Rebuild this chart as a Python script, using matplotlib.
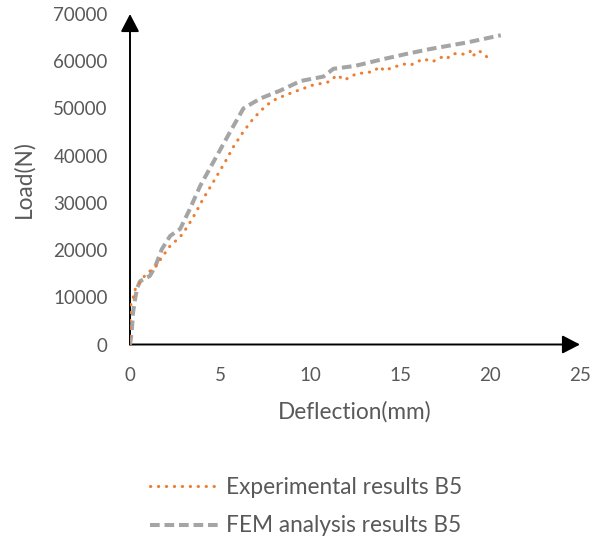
import matplotlib
matplotlib.use("Agg")
import matplotlib.pyplot as plt

# Load-deflection data for beam B5
exp_defl = [0.0, 0.0, 0.0, 0.0, 0.05, 0.18, 0.3, 0.56, 0.9, 1.39, 1.8, 2.23, 2.79, 3.2,
            3.62, 4.07, 4.64, 5.29, 5.75, 6.3, 6.86, 7.4, 7.8, 8.17, 8.9, 9.47, 10.2,
            10.8, 11.1, 11.5, 11.9, 12.6, 13.0, 13.5, 13.9, 14.1, 14.7, 15.2, 15.6,
            15.97, 16.3, 16.8, 17.4, 17.6, 18.0, 18.55, 18.9, 19.0, 19.4, 19.7, 19.9]
exp_load = [0, 3200, 4900, 6800, 8500, 10000, 11800, 13200, 15000, 16300, 18600, 20900,
            22800, 25000, 27700, 30900, 34500, 38700, 41900, 45100, 47900, 50000, 51300,
            52100, 53200, 54000, 55000, 55400, 55700, 57100, 56000, 57400, 57500, 57800,
            58900, 58000, 58800, 59400, 59200, 59900, 60500, 59900, 61000, 60600, 61600,
            61500, 62100, 61000, 62200, 61300, 60700]

fem_defl = [0.0, 0.09, 0.17, 0.28, 0.4, 0.56, 1.1, 1.4, 1.77, 2.23, 2.79, 3.3, 3.9, 4.83,
            5.57, 6.3, 7.24, 8.36, 9.47, 10.75, 11.3, 12.5, 13.9, 15.3, 16.7, 18.76, 20.6]
fem_load = [0, 2500, 6800, 9600, 12000, 13400, 14500, 16500, 20200, 23000, 24500, 28500,
            33600, 40000, 45100, 50000, 52100, 53800, 55800, 56750, 58400, 59000, 60300,
            61500, 62600, 64000, 65500]

x_ticks = [0, 5, 10, 15, 20, 25]
y_ticks = [0, 10000, 20000, 30000, 40000, 50000, 60000, 70000]

plt.rcParams['font.family'] = ['Lato', 'DejaVu Sans']
TEXT = '#595959'
FS_TICK = 13.5
FS_TEXT = 16.3

fig = plt.figure(figsize=(6.09, 5.46), dpi=100)
ax = fig.add_axes([130 / 609, 1 - 344.5 / 546, 450 / 609, 330.5 / 546])

ax.plot(exp_defl, exp_load, color='#ED7D31', lw=2.2, linestyle=(0, (0.1, 2.5)),
        dash_capstyle='round', label='Experimental results B5', zorder=3)
ax.plot(fem_defl, fem_load, color='#A5A5A5', lw=2.9, linestyle=(0, (2.4, 1.2)),
        label='FEM analysis results B5', zorder=2)

ax.set_xlim(0, 25)
ax.set_ylim(0, 70000)
ax.set_xticks(x_ticks)
ax.set_yticks(y_ticks)
ax.set_xticklabels([str(v) for v in x_ticks])
ax.set_yticklabels([str(v) for v in y_ticks])
ax.tick_params(axis='both', length=0, labelsize=FS_TICK, labelcolor=TEXT)
ax.tick_params(axis='y', pad=16)
ax.tick_params(axis='x', pad=16)

for s in ax.spines.values():
    s.set_visible(False)

# axis lines with arrow heads
arrow = dict(arrowstyle='-|>,head_length=1.08,head_width=0.56', color='black',
             lw=1.4, shrinkA=0, shrinkB=0, mutation_scale=10)
ax.annotate('', xy=(1, 0), xytext=(0, 0), xycoords='axes fraction',
            textcoords='axes fraction', arrowprops=arrow, zorder=1)
ax.annotate('', xy=(0, 1), xytext=(0, 0), xycoords='axes fraction',
            textcoords='axes fraction', arrowprops=arrow, zorder=1)

ax.set_xlabel('Deflection(mm)', fontsize=FS_TEXT, color=TEXT, va='center')
ax.xaxis.set_label_coords(0.5, (344.5 - 412) / 330.5)
ax.set_ylabel('Load(N)', fontsize=FS_TEXT, color=TEXT, va='center')
ax.yaxis.set_label_coords((24 - 130) / 450, 0.5)

fs_px = FS_TEXT * 100 / 72
leg = fig.legend(loc='upper left', bbox_to_anchor=(150 / 609, 1 - 477 / 546),
                 frameon=False, fontsize=FS_TEXT, handlelength=68 / fs_px,
                 handletextpad=8 / fs_px, labelspacing=0.77, borderpad=0,
                 borderaxespad=0)
for t in leg.get_texts():
    t.set_color(TEXT)

fig.savefig('out.png', dpi=100)
